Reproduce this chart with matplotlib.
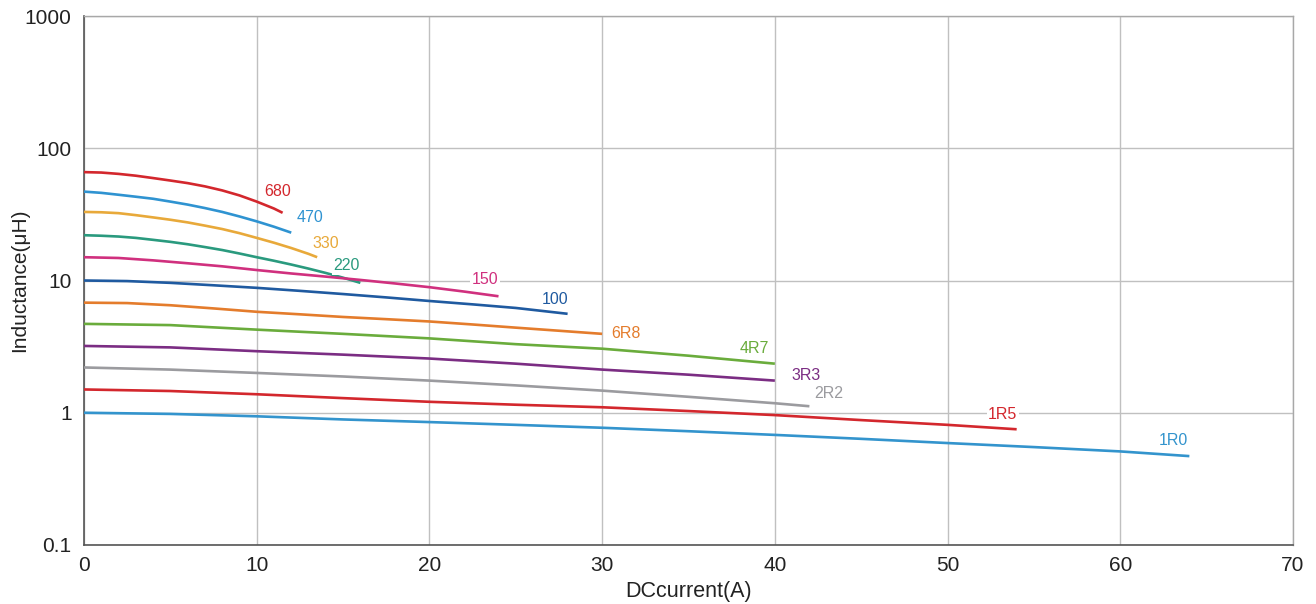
import matplotlib
matplotlib.use("Agg")
import matplotlib.pyplot as plt

plt.rcParams['font.family'] = ['Liberation Sans', 'DejaVu Sans']

# series: current (A) and inductance (uH)
i_680 = [0, 1, 2, 3, 4, 5, 6, 7, 8, 9, 10, 11, 11.5]
l_680 = [66, 65.5, 64, 62, 59.5, 57, 54.5, 51.5, 48, 44, 39.5, 35, 32.5]
i_470 = [0, 1, 2, 3, 4, 5, 6, 7, 8, 9, 10, 11, 12]
l_470 = [47, 46, 44.5, 43, 41.5, 39.5, 37.5, 35.3, 33, 30.5, 28, 25.5, 23]
i_330 = [0, 1, 2, 3, 4, 5, 6, 7, 8, 9, 10, 11, 12, 13, 13.5]
l_330 = [33, 32.8, 32.3, 31.2, 30, 28.8, 27.5, 26, 24.5, 22.8, 21, 19.3, 17.6, 15.9, 15]
i_220 = [0, 1, 2, 3, 4, 5, 6, 7, 8, 9, 10, 11, 12, 13, 14, 15, 16]
l_220 = [22, 21.8, 21.5, 21, 20.3, 19.6, 18.8, 17.9, 17, 16, 15, 14.1, 13.2, 12.3, 11.4, 10.5, 9.6]
i_150 = [0, 2, 4, 6, 8, 10, 12, 14, 16, 18, 20, 22, 24]
l_150 = [15, 14.8, 14.2, 13.5, 12.8, 12, 11.3, 10.7, 10.1, 9.5, 8.9, 8.25, 7.6]
i_100 = [0, 2.5, 5, 7.5, 10, 12.5, 15, 17.5, 20, 22.5, 25, 28]
l_100 = [10, 9.9, 9.6, 9.2, 8.8, 8.35, 7.9, 7.45, 7.0, 6.6, 6.2, 5.6]
i_6r8 = [0, 2.5, 5, 7.5, 10, 12.5, 15, 17.5, 20, 22.5, 25, 27.5, 30]
l_6r8 = [6.8, 6.75, 6.5, 6.15, 5.8, 5.55, 5.3, 5.1, 4.9, 4.65, 4.4, 4.17, 3.95]
i_4r7 = [0, 5, 10, 15, 20, 25, 30, 35, 40]
l_4r7 = [4.7, 4.6, 4.25, 3.95, 3.65, 3.3, 3.05, 2.7, 2.35]
i_3r3 = [0, 5, 10, 15, 20, 25, 30, 35, 40]
l_3r3 = [3.2, 3.12, 2.92, 2.75, 2.57, 2.35, 2.12, 1.94, 1.75]
i_2r2 = [0, 5, 10, 15, 20, 25, 30, 35, 40, 42]
l_2r2 = [2.2, 2.12, 2.0, 1.88, 1.75, 1.61, 1.47, 1.32, 1.18, 1.12]
i_1r5 = [0, 5, 10, 15, 20, 25, 30, 35, 40, 45, 50, 54]
l_1r5 = [1.5, 1.46, 1.38, 1.29, 1.21, 1.15, 1.1, 1.03, 0.96, 0.88, 0.81, 0.75]
i_1r0 = [0, 5, 10, 15, 20, 25, 30, 35, 40, 45, 50, 55, 60, 64]
l_1r0 = [1.0, 0.98, 0.94, 0.89, 0.85, 0.81, 0.77, 0.725, 0.68, 0.635, 0.59, 0.55, 0.51, 0.47]

names = ['680', '470', '330', '220', '150', '100', '6R8', '4R7', '3R3', '2R2', '1R5', '1R0']
currents = [i_680, i_470, i_330, i_220, i_150, i_100, i_6r8, i_4r7, i_3r3, i_2r2, i_1r5, i_1r0]
inducts = [l_680, l_470, l_330, l_220, l_150, l_100, l_6r8, l_4r7, l_3r3, l_2r2, l_1r5, l_1r0]
label_x = [11.2, 13.1, 14.0, 15.2, 23.2, 27.3, 31.4, 38.8, 41.8, 43.1, 53.2, 63.1]
label_y = [46.7, 29.7, 18.9, 12.9, 10.1, 7.13, 3.94, 3.08, 1.90, 1.39, 0.962, 0.622]
colors = ['#d3272d', '#2f93d1', '#e8a93a', '#2a9a7e', '#d0307e', '#1f5aa0',
          '#e47c2c', '#6aac3c', '#7b2d83', '#9b9b9f', '#d3272d', '#3394cd']

x_ticks = [0, 10, 20, 30, 40, 50, 60, 70]
y_ticks = [0.1, 1, 10, 100, 1000]
y_tick_labels = ['0.1', '1', '10', '100', '1000']

fig = plt.figure(figsize=(13.16, 6.04), dpi=100)
ax = fig.add_axes([84/1316, 1-545/604, (1293-84)/1316, (545-16)/604])
ax.set_yscale('log')
ax.set_xlim(0, 70)
ax.set_ylim(0.1, 1000)
ax.set_xticks(x_ticks)
ax.set_xticklabels([str(t) for t in x_ticks])
ax.set_yticks(y_ticks)
ax.set_yticklabels(y_tick_labels)
ax.yaxis.set_minor_locator(matplotlib.ticker.NullLocator())
ax.tick_params(length=0, labelsize=15, colors='#222222')
ax.tick_params(axis='y', pad=9)
ax.tick_params(axis='x', pad=8)
ax.grid(True, color='#c0c0c0', linewidth=1.0)
ax.set_axisbelow(True)
for s in ['top', 'right']:
    ax.spines[s].set_color('#a8a8a8')
    ax.spines[s].set_linewidth(1.0)
for s in ['left', 'bottom']:
    ax.spines[s].set_color('#555555')
    ax.spines[s].set_linewidth(1.2)

for n, xs, ys, c, lx, ly in zip(names, currents, inducts, colors, label_x, label_y):
    ax.plot(xs, ys, color=c, linewidth=1.9, solid_capstyle='butt', zorder=3)
    ax.text(lx, ly, n, color=c, fontsize=11.5, ha='center', va='center', zorder=4,
            bbox=dict(boxstyle='square,pad=0.1', facecolor='white', edgecolor='none'))

ax.set_xlabel('DCcurrent(A)', fontsize=15.5, color='#222222', labelpad=4)
ax.set_ylabel('Inductance(μH)', fontsize=15, color='#222222', va='center')
ax.yaxis.set_label_coords((20 - 84) / 1209, 0.5)

fig.savefig('out.png', dpi=100)
